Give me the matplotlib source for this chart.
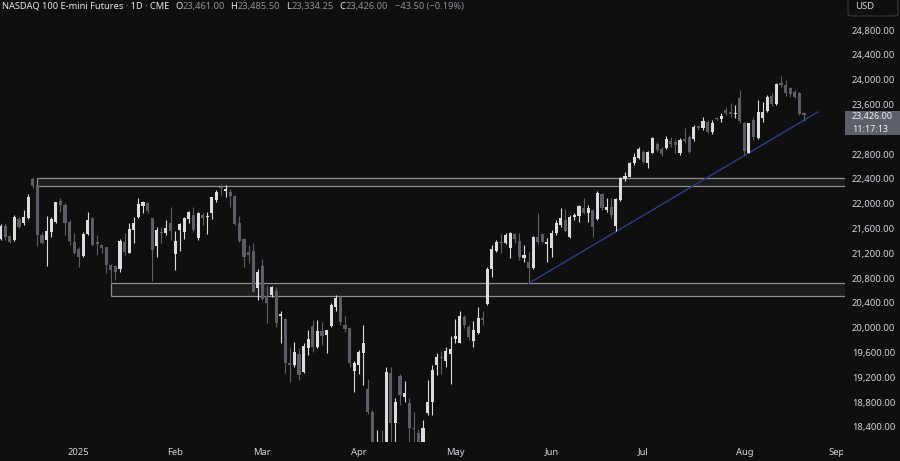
import numpy as np
import matplotlib
matplotlib.use('Agg')
import matplotlib.pyplot as plt
from matplotlib.patches import Rectangle, FancyBboxPatch

# дневные свечи NQ (с середины декабря 2024 по 20 авг 2025)
opens = [21426, 21641, 21480, 21415, 21749, 21695, 21765, 22395, 22303, 21496,
         21415, 21550, 21711, 22045, 21980, 21711, 21388, 21265, 21157, 21512,
         21765, 21377, 21329, 21297, 21012, 21001, 20953, 21388, 21211, 21577,
         21781, 21964, 22007, 21765, 21318, 21550, 21523, 21685, 21190, 21577,
         21550, 21749, 21819, 21442, 21819, 21781, 21846, 22061, 22266, 22212,
         22196, 22126, 21695, 21426, 21227, 21243, 20636, 20996, 20512, 20528,
         20593, 20194, 20135, 19436, 19398, 19576, 19290, 19667, 20033, 19694,
         19947, 19882, 20033, 20329, 20501, 20044, 19990, 19307, 19398, 19586,
         19011, 18645, 17300, 18100, 17250, 19266, 18459, 19226, 18887, 18790,
         18387, 18306, 18160, 18618, 18806, 19398, 19533, 19463, 19576, 19818,
         19759, 20178, 20017, 19791, 19909, 20151, 20383, 20942, 21243, 21389,
         21372, 21281, 21507, 21404, 21130, 21065, 20958, 21469, 21507, 21351,
         21281, 21534, 21657, 21738, 21458, 21781, 21803, 21937, 21856, 21899,
         21754, 22158, 21899, 21943, 21641, 22061, 22394, 22437, 22653, 22733,
         22841, 22663, 22825, 22965, 22884, 22895, 23018, 23002, 22813, 23044,
         23082, 23039, 23254, 23217, 23324, 23163, 23378, 23362, 23512, 23486,
         23442, 23701, 23308, 22824, 23351, 23055, 23378, 23496, 23738, 23604,
         23943, 23916, 23862, 23808, 23792, 23461]
highs = [21668, 21684, 21490, 21819, 21792, 21899, 22158, 22430, 22303, 21550,
         21803, 21792, 22034, 22093, 22007, 21738, 21523, 21308, 21550, 21872,
         21792, 21496, 21334, 21308, 21028, 21012, 21426, 21523, 21684, 21781,
         22088, 22050, 22034, 21765, 21620, 21630, 21738, 21954, 21566, 21695,
         21781, 21889, 21954, 21873, 21846, 21873, 22115, 22223, 22319, 22303,
         22233, 22142, 21803, 21442, 21335, 21373, 20942, 21104, 20673, 20673,
         20663, 20275, 20151, 19694, 19775, 19667, 19748, 19963, 20124, 20124,
         20097, 19963, 20404, 20528, 20512, 20189, 20001, 19468, 19640, 20044,
         19167, 18672, 18351, 18351, 19372, 19372, 18860, 19247, 19140, 18860,
         18645, 18360, 18510, 19156, 19398, 19586, 19629, 19694, 19866, 20135,
         20270, 20205, 20044, 20114, 20329, 20275, 20985, 21335, 21416, 21512,
         21523, 21550, 21534, 21523, 21334, 21227, 21480, 21846, 21534, 21442,
         21577, 21738, 21926, 21910, 21819, 21856, 21980, 22088, 21980, 21910,
         22211, 22168, 22088, 22088, 22088, 22437, 22518, 22679, 22814, 22911,
         22868, 22857, 23083, 23002, 22922, 23094, 23083, 23045, 23055, 23217,
         23109, 23270, 23270, 23405, 23351, 23351, 23405, 23469, 23555, 23631,
         23593, 23835, 23324, 23308, 23405, 23674, 23647, 23755, 23792, 23943,
         24061, 23997, 23889, 23835, 23808, 23485.5]
lows = [21415, 21415, 21361, 21404, 21603, 21657, 21749, 22250, 21318, 21350,
        20996, 21469, 21684, 21872, 21496, 21334, 21189, 20974, 21146, 21496,
        21318, 21173, 21211, 20877, 20730, 20770, 20904, 21173, 21200, 21372,
        21765, 21846, 21846, 20754, 21146, 21361, 21496, 21416, 20931, 21243,
        21426, 21695, 21550, 21416, 21658, 21512, 21749, 22034, 22142, 22104,
        21954, 21658, 21389, 20985, 21050, 20577, 20447, 20447, 20081, 20501,
        20017, 19748, 19264, 19129, 19371, 19156, 19275, 19560, 19613, 19667,
        19721, 19597, 20017, 20275, 20044, 19936, 19371, 18968, 19253, 19075,
        18607, 17390, 16460, 17100, 17150, 17900, 18100, 18753, 18806, 18100,
        18150, 18050, 18080, 18591, 18591, 19237, 19253, 19371, 19091, 19748,
        19748, 19990, 19802, 19683, 19898, 20044, 20367, 20824, 21227, 21200,
        21351, 21119, 21372, 21092, 21065, 20716, 20942, 21351, 21372, 21065,
        21146, 21496, 21630, 21550, 21442, 21738, 21711, 21835, 21711, 21469,
        21738, 21899, 21873, 21765, 21566, 22050, 22373, 22427, 22626, 22717,
        22653, 22583, 22814, 22841, 22776, 22879, 22922, 22814, 22786, 22974,
        22813, 23017, 23190, 23190, 23136, 23125, 23351, 23324, 23432, 23405,
        23378, 23297, 22786, 22813, 23028, 23039, 23324, 23486, 23577, 23588,
        23878, 23738, 23717, 23701, 23432, 23334.25]
closes = [21641, 21469, 21388, 21792, 21630, 21792, 22115, 22290, 21496, 21361,
          21560, 21749, 22023, 21980, 21684, 21404, 21211, 21146, 21512, 21738,
          21334, 21350, 21281, 21012, 20931, 20904, 21404, 21227, 21587, 21695,
          21991, 22034, 21883, 21254, 21577, 21523, 21603, 21566, 21399, 21668,
          21765, 21862, 21577, 21846, 21765, 21808, 22104, 22196, 22250, 22244,
          22126, 21669, 21405, 21136, 21173, 20582, 20905, 20458, 20393, 20652,
          20071, 20221, 19436, 19393, 19613, 19237, 19710, 19818, 19694, 19947,
          19866, 19963, 20367, 20485, 20097, 19974, 19436, 19436, 19603, 19748,
          18645, 17420, 17480, 17200, 19292, 18459, 18808, 18914, 18952, 18376,
          18365, 18150, 18387, 18806, 19317, 19533, 19517, 19630, 19651, 19866,
          20189, 20044, 19856, 19963, 20151, 20124, 20948, 21270, 21378, 21362,
          21496, 21523, 21426, 21146, 21173, 20958, 21458, 21388, 21388, 21388,
          21534, 21695, 21765, 21561, 21792, 21819, 21964, 21856, 21926, 21630,
          22168, 21926, 21943, 21819, 22072, 22421, 22448, 22663, 22749, 22879,
          22680, 22841, 23056, 22868, 22803, 23045, 22965, 22949, 23028, 23017,
          22840, 23233, 23217, 23335, 23163, 23308, 23362, 23416, 23459, 23448,
          23469, 23340, 22856, 23297, 23082, 23486, 23486, 23717, 23604, 23932,
          23916, 23781, 23771, 23728, 23448, 23426]

# подписи месяцев (индекс первой свечи месяца)
month_ticks = [17, 38, 57, 78, 99, 120, 140, 162, 182]
month_labels = ['2025', 'Feb', 'Mar', 'Apr', 'May', 'Jun', 'Jul', 'Aug', 'Sep']
# деление 23,200 закрыто меткой текущей цены
price_ticks = [p for p in range(18400, 24801, 400) if not (0 < 23426 - p < 400)]

# зоны и трендовая линия
zones = [(8, 22285, 22420), (24, 20520, 20730)]
trend_x = [115, 178]
trend_y = [20716, 23480]

prev_close = 23469.5
bar_time = '11:17:13'

bg = '#0f0f0f'
up_col = '#dcdcdc'
dn_col = '#5c5e67'
txt_col = '#d1d4dc'

plt.rcParams['font.family'] = ['Noto Sans', 'DejaVu Sans']

W, H = 900, 461
fig = plt.figure(figsize=(W / 100, H / 100), dpi=100, facecolor=bg)
ax = fig.add_axes([0, 19 / H, 845 / W, 442 / H])
ax.set_facecolor(bg)
for s in ax.spines.values():
    s.set_visible(False)

o = np.array(opens, dtype=float)
h = np.array(highs, dtype=float)
l = np.array(lows, dtype=float)
c = np.array(closes, dtype=float)
x = np.arange(len(o))
cols = [up_col if cc >= oo else dn_col for oo, cc in zip(o, c)]

x_right = 183.94
for x0, lo, hi in zones:
    ax.add_patch(Rectangle((x0, lo), x_right - x0 + 1, hi - lo, facecolor='#1c1c1c',
                           edgecolor='#8e8e8e', linewidth=0.9, zorder=1))

ax.plot(trend_x, trend_y, color='#2a3f86', linewidth=1.0, zorder=2)

ax.vlines(x, l, h, colors=cols, linewidth=0.8, zorder=3)
body_h = np.maximum(np.abs(c - o), 14)
ax.bar(x, body_h, bottom=np.minimum(o, c), width=0.68, color=cols, linewidth=0, zorder=4)

ax.set_xlim(-0.15, x_right)
ax.set_ylim(18158, 25287)

ax.set_xticks(month_ticks)
ax.set_xticklabels(month_labels)
ax.tick_params(axis='x', length=0, pad=4, labelsize=6.8, labelcolor=txt_col)
ax.get_xticklabels()[0].set_fontweight('bold')

ax.yaxis.tick_right()
ax.set_yticks(price_ticks)
ax.set_yticklabels([f'{p:,.2f}' for p in price_ticks])
ax.tick_params(axis='y', length=0, pad=5, labelsize=6.8, labelcolor=txt_col)


def fx(px):
    return px / W


def fy(py):
    return 1 - py / H


# прячем обрезанную подпись Sep под шкалой цен
fig.add_artist(Rectangle((fx(843), 0), fx(57), 22 / H, transform=fig.transFigure,
                         facecolor=bg, edgecolor='none', zorder=3))

# метка текущей цены
fig.add_artist(Rectangle((fx(845), fy(135)), fx(55), 24 / H, transform=fig.transFigure,
                         facecolor='#5d606b', edgecolor='none', zorder=4))
fig.text(fx(852), fy(117), f'{closes[-1]:,.2f}', color='#f0f0f0', fontsize=6.5,
         va='center', ha='left', zorder=5)
fig.text(fx(852), fy(129), bar_time, color='#f0f0f0', fontsize=6.5,
         va='center', ha='left', zorder=5)

# кнопка USD
fig.add_artist(FancyBboxPatch((fx(848), fy(16)), fx(50), 22 / H, transform=fig.transFigure,
                              boxstyle='round,pad=0,rounding_size=0.005', facecolor=bg,
                              edgecolor='#3a3a3a', linewidth=0.8, zorder=4))
fig.text(fx(855), fy(6.5), 'USD', color=txt_col, fontsize=6.8, va='center', ha='left', zorder=5)

# заголовок
fig.text(fx(2), fy(6.3), 'NASDAQ 100 E-mini Futures · 1D · CME', color='#e6e6e6',
         fontsize=6.7, va='center', ha='left')
val_col = '#8c8f98'
parts = [('O', opens[-1], 175), ('H', highs[-1], 230), ('L', lows[-1], 286), ('C', closes[-1], 339)]
for letter, val, px0 in parts:
    t = fig.text(fx(px0), fy(6.3), letter, color='#e6e6e6', fontsize=6.7, va='center', ha='left')
    fig.add_artist(plt.Annotation(f'{val:,.2f}', xy=(1, 0.5), xycoords=t, xytext=(0.4, 0),
                                  textcoords='offset points', color=val_col, fontsize=6.7,
                                  va='center', ha='left'))
chg = closes[-1] - prev_close
pct = chg / prev_close * 100
fig.text(fx(395), fy(6.3), f'{chg:.2f} ({pct:.2f}%)'.replace('-', '−'), color=val_col,
         fontsize=6.7, va='center', ha='left')

fig.savefig('out.png', dpi=100, facecolor=bg)
